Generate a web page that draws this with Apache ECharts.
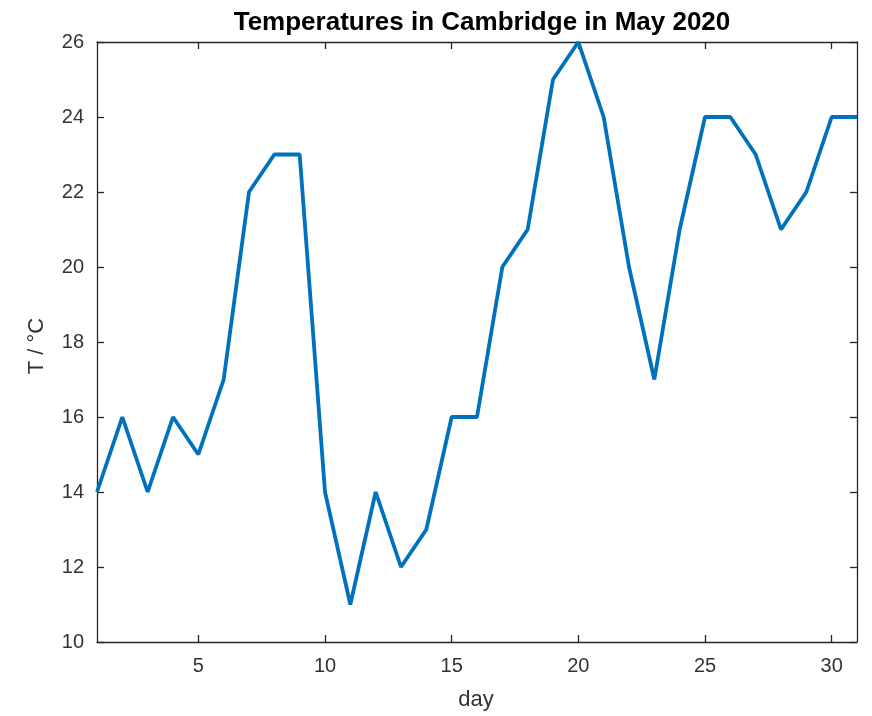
<!DOCTYPE html>
<html>
<head>
<meta charset="UTF-8">
<title>Temperatures in Cambridge in May 2020</title>
<script src="https://cdn.jsdelivr.net/npm/echarts@6/dist/echarts.min.js"></script>
<style>
  html, body { margin: 0; padding: 0; background: #fff; }
  #chart { width: 872px; height: 716px; }
</style>
</head>
<body>
<div id="chart"></div>
<script>
// data
const days = [1, 2, 3, 4, 5, 6, 7, 8, 9, 10, 11, 12, 13, 14, 15, 16, 17, 18, 19, 20, 21, 22, 23, 24, 25, 26, 27, 28, 29, 30, 31];
const temps = [14, 16, 14, 16, 15, 17, 22, 23, 23, 14, 11, 14, 12, 13, 16, 16, 20, 21, 25, 26, 24, 20, 17, 21, 24, 24, 23, 21, 22, 24, 24];
const xTicks = [5, 10, 15, 20, 25, 30];
const yTicks = [10, 12, 14, 16, 18, 20, 22, 24, 26];

const axisCol = '#262626';
const labelCol = '#333333';
const font = 'Liberation Sans, Arial, sans-serif';

const chart = echarts.init(document.getElementById('chart'));

function xAx(pos, showLabel) {
  return {
    type: 'value', position: pos, min: 1, max: 31,
    axisLine: { show: true, onZero: false, lineStyle: { color: axisCol, width: 1.3 } },
    axisTick: { show: true, inside: true, length: 7, customValues: xTicks, lineStyle: { color: axisCol, width: 1.3 } },
    axisLabel: { show: showLabel, customValues: xTicks, color: labelCol, fontSize: 20, fontFamily: font, margin: 14 },
    splitLine: { show: false }
  };
}
function yAx(pos, showLabel) {
  return {
    type: 'value', position: pos, min: yTicks[0], max: yTicks[yTicks.length - 1], interval: 2,
    axisLine: { show: true, onZero: false, lineStyle: { color: axisCol, width: 1.3 } },
    axisTick: { show: true, inside: true, length: 7, lineStyle: { color: axisCol, width: 1.3 } },
    axisLabel: { show: showLabel, color: labelCol, fontSize: 20, fontFamily: font, margin: 13 },
    splitLine: { show: false }
  };
}

chart.setOption({
  animation: false,
  backgroundColor: '#fff',
  title: {
    text: 'Temperatures in Cambridge in May 2020',
    left: 477, top: 5, textAlign: 'center',
    textStyle: { fontSize: 26, fontWeight: 'bold', color: '#000', fontFamily: font }
  },
  grid: { left: 97, right: 15, top: 42, bottom: 74, containLabel: false },
  xAxis: [xAx('bottom', true), xAx('top', false)],
  yAxis: [yAx('left', true), yAx('right', false)],
  graphic: [
    { type: 'text', x: 476, y: 700,
      style: { text: 'day', fontSize: 22, fontFamily: font, fill: labelCol, textAlign: 'center', textVerticalAlign: 'middle' } },
    { type: 'text', x: 37, y: 346, rotation: Math.PI / 2,
      style: { text: 'T / °C', fontSize: 22, fontFamily: font, fill: labelCol, textAlign: 'center', textVerticalAlign: 'middle' } }
  ],
  series: [{
    type: 'line',
    data: days.map((d, i) => [d, temps[i]]),
    showSymbol: false,
    lineStyle: { color: '#0072BD', width: 3.8 },
    clip: false
  }]
});
</script>
</body>
</html>
